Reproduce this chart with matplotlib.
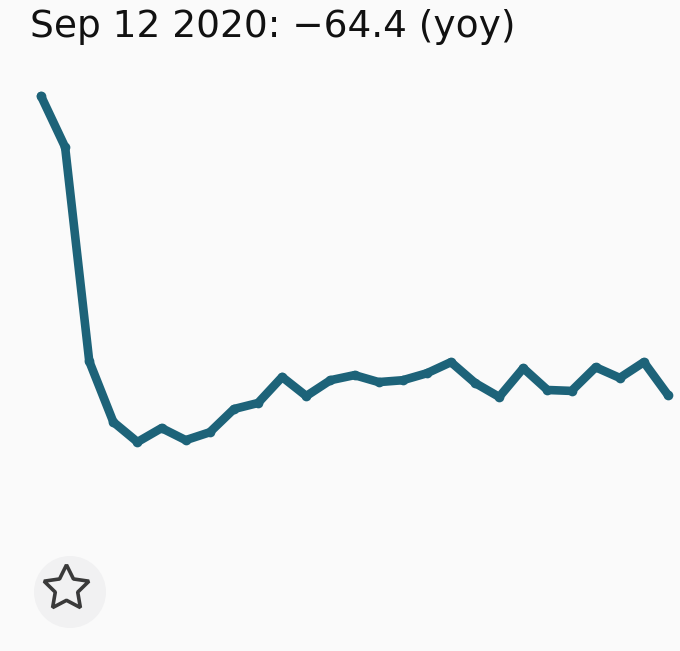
import matplotlib
matplotlib.use("Agg")
import matplotlib.pyplot as plt
import numpy as np
import pandas as pd
from matplotlib.patches import Circle

# Data (weekly, year-over-year % change)
dates = pd.date_range("2020-03-14", "2020-09-12", freq="7D")
values = [0.0, -11.0, -57.1, -70.2, -74.5, -71.5, -74.1, -72.4, -67.4, -66.1,
          -60.5, -64.6, -61.2, -60.1, -61.6, -61.2, -59.7, -57.3, -61.8, -64.8,
          -58.6, -63.3, -63.5, -58.4, -60.7, -57.3, -64.4]
title_text = "Sep 12 2020: \u221264.4 (yoy)"

W, H = 680, 651
bg = "#fafafa"
line_color = "#1d6379"

fig = plt.figure(figsize=(W / 100, H / 100), dpi=100, facecolor=bg)

# main axes mapped to pixel region x 41..668, y 96..442
left, right, top, bottom = 41, 668, 96, 442
ax = fig.add_axes([left / W, 1 - bottom / H, (right - left) / W, (bottom - top) / H])
ax.set_facecolor("none")
ax.plot(dates, values, color=line_color, lw=6.2, solid_joinstyle="round",
        solid_capstyle="round", marker="o", markersize=7,
        markerfacecolor=line_color, markeredgewidth=0, clip_on=False)
ax.set_xlim(dates[0], dates[-1])
ax.set_ylim(min(values), max(values))
ax.axis("off")

# title
fig.text(30 / W, 1 - 37 / H, title_text, fontsize=27, family="DejaVu Sans",
         color="#111111", ha="left", va="baseline")

# star button
bax = fig.add_axes([0, 0, 1, 1])
bax.set_xlim(0, W)
bax.set_ylim(H, 0)
bax.axis("off")
bax.set_facecolor("none")
bax.add_patch(Circle((70, 592), 36, facecolor="#f1f1f2", edgecolor="none"))
bax.plot([66], [588], marker=(5, 1, 0), markersize=34, markerfacecolor="none",
         markeredgecolor="#3a3a3a", markeredgewidth=2.6, linestyle="none")

fig.savefig("out.png", dpi=100, facecolor=bg)
